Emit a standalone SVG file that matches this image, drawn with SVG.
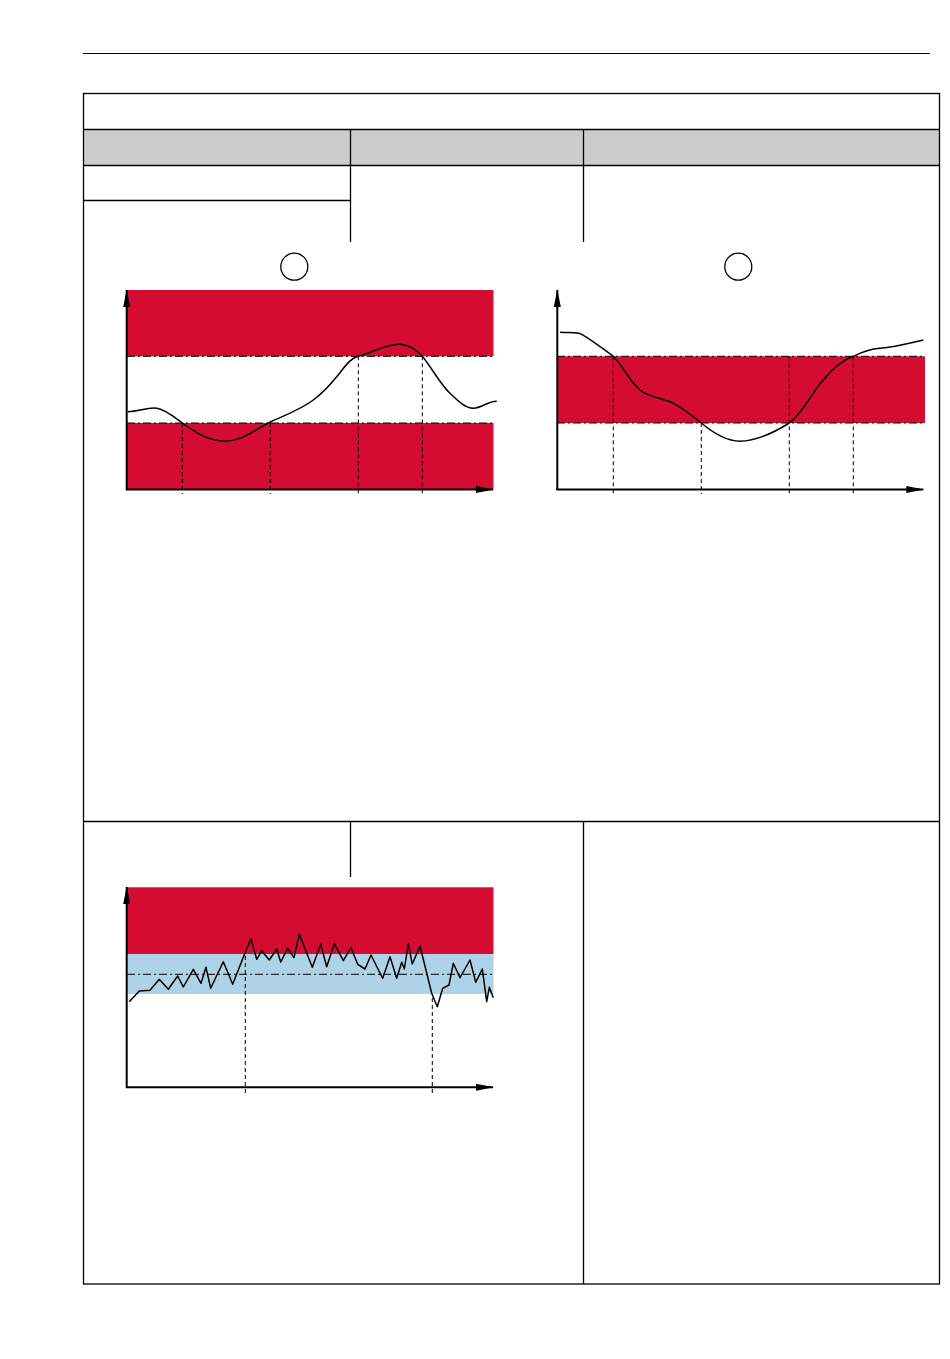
<svg xmlns="http://www.w3.org/2000/svg" width="950" height="1359" viewBox="0 0 950 1359">
<style>
.tl{stroke:#000;stroke-width:1.3;fill:none}
.ax{stroke:#000;stroke-width:2;fill:none}
.cv{stroke:#000;stroke-width:1.5;fill:none;stroke-linejoin:round}
.dd{stroke:#000;stroke-width:1;stroke-dasharray:8,3,2,3;fill:none}
.ds{stroke:#000;stroke-width:1;stroke-dasharray:4,3;fill:none}
.red{fill:#d40c32}
.blue{fill:#aed3e6}
.hdr{fill:#cccccc}
</style>
<defs>
<marker id="arr" viewBox="0 0 18 7" markerUnits="userSpaceOnUse" markerWidth="18" markerHeight="7" refX="17" refY="3.5" orient="auto">
<path d="M0,0 L18,3.5 L0,7 z" fill="#000"/>
</marker>
</defs>
<rect width="950" height="1359" fill="#fff"/>
<line x1="83" y1="53.5" x2="930" y2="53.5" stroke="#000" stroke-width="1.2"/>
<g id="table">
<rect class="hdr" x="83.5" y="129.5" width="856" height="36"/>
<rect class="tl" x="83.5" y="93.5" width="856" height="1190.5"/>
<line class="tl" x1="83.5" y1="129.5" x2="939.5" y2="129.5"/>
<line class="tl" x1="83.5" y1="165.5" x2="939.5" y2="165.5"/>
<line class="tl" x1="350.5" y1="129.5" x2="350.5" y2="242"/>
<line class="tl" x1="583.5" y1="129.5" x2="583.5" y2="242"/>
<line class="tl" x1="83.5" y1="200.5" x2="350.5" y2="200.5"/>
<line class="tl" x1="83.5" y1="821.5" x2="939.5" y2="821.5"/>
<line class="tl" x1="350.5" y1="821.5" x2="350.5" y2="877"/>
<line class="tl" x1="583.5" y1="821.5" x2="583.5" y2="1284"/>
</g>
<g id="chart1">
<rect class="red" x="127" y="290" width="366.5" height="66.3"/>
<rect class="red" x="127" y="423" width="366.5" height="66.5"/>
<circle cx="294.3" cy="266.7" r="13.5" fill="none" stroke="#000" stroke-width="1.3"/>
<line class="dd" x1="127" y1="356.3" x2="493.5" y2="356.3"/>
<line class="dd" x1="127" y1="423" x2="493.5" y2="423"/>
<line class="ds" x1="182.3" y1="423" x2="182.3" y2="494"/>
<line class="ds" x1="270.3" y1="423" x2="270.3" y2="494"/>
<line class="ds" x1="358.3" y1="356.3" x2="358.3" y2="494"/>
<line class="ds" x1="422.3" y1="356.3" x2="422.3" y2="494"/>
<path class="cv" d="M128,411.7 C140,411 148,407 157,408.3 C166,410 174,417 182.3,423 C195,432 208,441 225,441.3 C242,441 256,429 270.3,422 C285,415 300,410 313.3,400 C324,392 330,385 336.7,376.7 C344,368 350,358 358.3,356.3 C372,353 385,344 400,344.3 C410,345 416,350 422.3,356.3 C432,368 440,384 450,393.3 C458,401 465,408 473.3,408.3 C482,408 488,401 496.7,401.3"/>
<line class="ax" x1="126.7" y1="490" x2="126.7" y2="290" marker-end="url(#arr)"/>
<line class="ax" x1="126" y1="489.5" x2="493" y2="489.5" marker-end="url(#arr)"/>
</g>
<g id="chart2">
<rect class="red" x="557" y="356.3" width="368" height="66.7"/>
<circle cx="738.3" cy="266.7" r="13.5" fill="none" stroke="#000" stroke-width="1.3"/>
<line class="dd" x1="557" y1="356.3" x2="925" y2="356.3"/>
<line class="dd" x1="557" y1="423" x2="925" y2="423"/>
<line class="ds" x1="613.3" y1="356.3" x2="613.3" y2="494"/>
<line class="ds" x1="701.3" y1="423" x2="701.3" y2="494"/>
<line class="ds" x1="789.3" y1="356.3" x2="789.3" y2="494"/>
<line class="ds" x1="853.3" y1="356.3" x2="853.3" y2="494"/>
<path class="cv" d="M560,332.3 C570,333 577,332 581.7,334.3 C592,340 603,349 613.3,356.3 C623,366 630,382 640,390 C650,398 663,398 673.3,403.3 C685,409 692,416 701.3,423 C712,432 725,441 740,441.3 C757,441 775,432 789.3,423 C803,413 812,392 823.3,380 C833,368 843,360 853.3,356.3 C862,352 870,349 880,348.3 C895,347 910,343 923.3,340"/>
<line class="ax" x1="557.3" y1="490" x2="557.3" y2="290" marker-end="url(#arr)"/>
<line class="ax" x1="556.5" y1="489.5" x2="923.3" y2="489.5" marker-end="url(#arr)"/>
</g>
<g id="chart3">
<rect class="red" x="127" y="887.3" width="366.5" height="66.7"/>
<rect class="blue" x="127" y="954" width="366.5" height="40"/>
<line class="dd" x1="127" y1="974.3" x2="493.5" y2="974.3"/>
<line class="ds" x1="245.3" y1="956" x2="245.3" y2="1093"/>
<line class="ds" x1="432.3" y1="998" x2="432.3" y2="1093"/>
<polyline class="cv" points="129.3,1001.7 139.3,991 150,990.3 159.3,979.3 168.3,989.3 177.7,976 183.3,987 193.3,969.3 201,983.3 206,967.3 210.7,988.3 223.3,961.7 232.7,984.3 243.3,957.3 251,939 256.7,959.3 261.7,950.7 269.3,960 276.7,949 280.7,962 287.7,948.3 294,957.7 299.3,934.3 312.3,967.3 320.7,944.3 326.7,966.7 334.3,943.7 343.3,960.7 351,947.7 357.7,964.3 365,969 371,955 382.7,978.3 390,956.7 396.7,978.3 401.7,962.3 404.3,969 408.3,944 412.3,964 420,946 431.7,993.3 437.3,1006.7 442.7,988.3 449,985 453.3,963.3 460,977.7 470,960 475.7,982.3 482.3,969 486.7,1001.7 489.3,987.3 493.3,997.7"/>
<line class="ax" x1="126.7" y1="1088" x2="126.7" y2="887" marker-end="url(#arr)"/>
<line class="ax" x1="126" y1="1087.3" x2="493" y2="1087.3" marker-end="url(#arr)"/>
</g>
</svg>
